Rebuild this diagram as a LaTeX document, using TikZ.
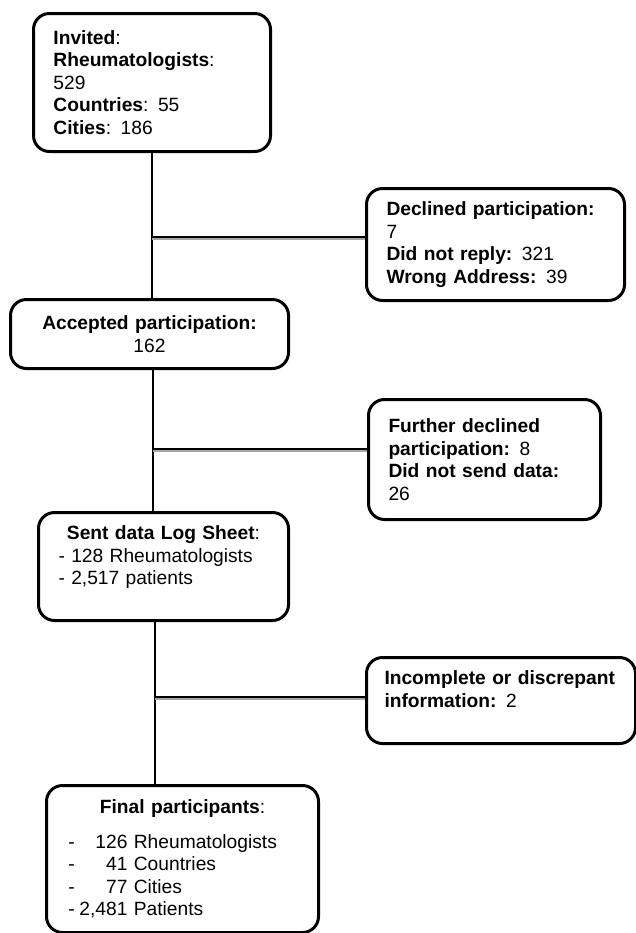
\documentclass[tikz,border=0pt]{standalone}
\usepackage{fontspec}
\setmainfont{Liberation Sans}
\usepackage{tikz}
\usetikzlibrary{calc}

\begin{document}
\begin{tikzpicture}[
  x=0.5pt, y=-0.5pt,
  flowbox/.style={draw, line width=1.5pt, rounded corners=8pt, anchor=north west, align=left, inner xsep=10pt, inner ysep=0pt, font=\fontsize{9.6}{11.25}\selectfont},
  link/.style={line width=1.25pt},
  branch/.style={link, preaction={draw=black!35, line width=1pt, transform canvas={yshift=-1.2pt}}}
]
  \useasboundingbox (0,0) rectangle (636,933);
  \node[flowbox, text width=98.5pt, minimum height=69pt] (invited) at (32,12) {\textbf{Invited}:\\\textbf{Rheumatologists}:\\529\\\textbf{Countries}: 55\\\textbf{Cities}: 186};
  \node[flowbox, text width=109pt, minimum height=56pt] (declined) at (365,187) {\textbf{Declined participation:}\\7\\\textbf{Did not reply:} 321\\\textbf{Wrong Address:} 39};
  \node[flowbox, text width=119pt, minimum height=34.5pt, align=center] (accepted) at (9,298) {\textbf{Accepted participation:}\\162};
  \node[flowbox, text width=96pt, minimum height=60pt] (further) at (367,398) {\textbf{Further declined}\\\textbf{participation:} 8\\\textbf{Did not send data:}\\26};
  \node[flowbox, text width=105pt, minimum height=54pt] (sent) at (37,511) {\makebox[\hsize]{\textbf{Sent data Log Sheet}:}\\- 128 Rheumatologists\\- 2,517 patients\\\mbox{}};
  \node[flowbox, text width=116.5pt, inner xsep=9pt, minimum height=43pt] (incomplete) at (365,656) {\textbf{Incomplete or discrepant}\\\textbf{information:} 2\\\mbox{}};
  \node[flowbox, text width=114pt, inner xsep=11pt, minimum height=73.5pt] (final) at (45,784) {\makebox[\hsize]{\textbf{Final participants}:}\\[6pt]-\makebox[26.3pt][r]{126} Rheumatologists\\-\makebox[26.3pt][r]{41} Countries\\-\makebox[26.3pt][r]{77} Cities\\-\makebox[26.3pt][r]{2,481} Patients};

  \coordinate (j1) at (152,237);
  \coordinate (j2) at (153,449);
  \coordinate (j3) at (155,697);
  \draw[link] (j1 |- invited.south) -- (j1 |- accepted.north);
  \draw[branch] (j1) -- (j1 -| declined.west);
  \draw[link] (j2 |- accepted.south) -- (j2 |- sent.north);
  \draw[branch] (j2) -- (j2 -| further.west);
  \draw[link] (j3 |- sent.south) -- (j3 |- final.north);
  \draw[branch] (j3) -- (j3 -| incomplete.west);
\end{tikzpicture}
\end{document}
